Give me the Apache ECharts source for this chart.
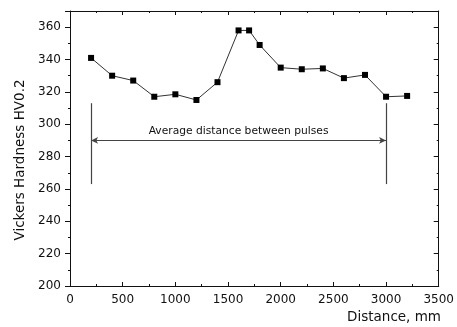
<!DOCTYPE html>
<html><head><meta charset="utf-8">
<script src="https://cdn.jsdelivr.net/npm/echarts@6/dist/echarts.min.js"></script>
<style>html,body{margin:0;padding:0;background:#fff}#c{width:457px;height:327px}</style>
</head><body><div id="c"></div>
<script>
var distance = [200, 400, 600, 800, 1000, 1200, 1400, 1600, 1700, 1800, 2000, 2200, 2400, 2600, 2800, 3000, 3200];
var hardness = [341, 330, 327, 317, 318.5, 315, 326, 358, 358, 349, 335, 334, 334.5, 328.5, 330.5, 317, 317.5];
var pulseStart = 200, pulseEnd = 3000;
var arrowLevel = 290;
var markerLow = 263, markerHigh = 313;
var annotation = 'Average distance between pulses';
var xTitle = 'Distance, mm';
var yTitle = 'Vickers Hardness HV0.2';

var chart = echarts.init(document.getElementById('c'));
var font = 'DejaVu Sans';
var axCol = '#111';
function plain(v) { return String(v); }
function xAx(pos, labels) {
  return {
    type: 'value', position: pos, min: 0, max: 3500, interval: 500,
    axisLine: {show: true, onZero: false, lineStyle: {color: axCol, width: 1}},
    axisTick: {show: true, inside: true, length: 4, lineStyle: {color: axCol}},
    minorTick: {show: true, splitNumber: 2, length: 2, lineStyle: {color: axCol}},
    axisLabel: {show: labels, margin: 8, color: '#111', fontFamily: font, fontSize: 12, formatter: plain},
    splitLine: {show: false}, minorSplitLine: {show: false}
  };
}
function yAx(pos, labels) {
  return {
    type: 'value', position: pos, min: 200, max: 370, interval: 20,
    axisLine: {show: true, onZero: false, lineStyle: {color: axCol, width: 1}},
    axisTick: {show: true, inside: !labels, length: 5, lineStyle: {color: axCol}},
    minorTick: {show: true, splitNumber: 2, length: 2, lineStyle: {color: axCol}},
    axisLabel: {show: labels, margin: 9, color: '#111', fontFamily: font, fontSize: 12, showMaxLabel: false, formatter: plain},
    splitLine: {show: false}, minorSplitLine: {show: false}
  };
}
chart.setOption({
  animation: false,
  backgroundColor: '#fff',
  grid: {left: 70, right: 16, top: 11, bottom: 41},
  xAxis: [xAx('bottom', true), xAx('top', false)],
  yAxis: [yAx('left', true), yAx('right', false)],
  series: [{
    type: 'line',
    data: distance.map(function (d, i) { return [d, hardness[i]]; }),
    symbol: 'rect', symbolSize: 6,
    lineStyle: {color: '#333', width: 1},
    itemStyle: {color: '#000'},
    markLine: {
      silent: true,
      symbol: ['none', 'none'],
      lineStyle: {color: '#444', width: 1.2, type: 'solid'},
      label: {show: false},
      data: [
        [{coord: [pulseStart, markerLow]}, {coord: [pulseStart, markerHigh]}],
        [{coord: [pulseEnd, markerLow]}, {coord: [pulseEnd, markerHigh]}],
        [{coord: [pulseStart, arrowLevel], symbol: 'arrow', symbolSize: [5, 7]},
         {coord: [pulseEnd, arrowLevel], symbol: 'arrow', symbolSize: [5, 7],
          label: {show: true, position: 'middle', formatter: annotation, color: '#111',
                  fontFamily: font, fontSize: 10.7, distance: 4}}]
      ]
    }
  }],
  graphic: [
    {type: 'text', x: 441, y: 317, style: {text: xTitle, fill: '#111', font: '13.5px "DejaVu Sans"', textAlign: 'right', textVerticalAlign: 'middle'}},
    {type: 'text', x: 20, y: 160, rotation: Math.PI / 2, style: {text: yTitle, fill: '#111', font: '13.5px "DejaVu Sans"', textAlign: 'center', textVerticalAlign: 'middle'}}
  ]
});
</script></body></html>
